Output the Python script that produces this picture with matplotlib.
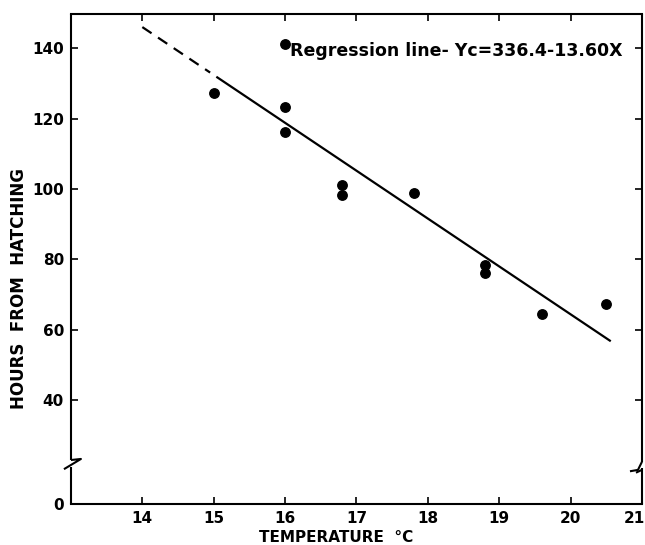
import matplotlib
matplotlib.use("Agg")
import matplotlib.pyplot as plt
import matplotlib.transforms as mtransforms
from matplotlib.lines import Line2D

# ---- data ----
temperature = [15.0, 16.0, 16.0, 16.0, 16.8, 16.8, 17.8, 18.8, 18.8, 19.6, 20.5]
hours = [127.2, 141.1, 123.3, 116.3, 101.0, 98.3, 98.8, 78.5, 76.0, 64.5, 67.4]

reg_intercept = 336.4
reg_slope = -13.60
dashed_x = [14.0, 14.95]
solid_x = [15.05, 20.55]

x_ticks = [14, 15, 16, 17, 18, 19, 20, 21]
y_ticks = [40, 60, 80, 100, 120, 140]
y_zero_label = "0"
equation_text = "Regression line- Yc=336.4-13.60X"

# ---- layout constants (broken axis) ----
Y_FLOOR = 10.5       # where the "0" sits on the broken axis
Y_TOP = 149.7
BREAK_HI = 23.0
BREAK_LO = 21.0

fig = plt.figure(figsize=(6.45, 5.45), dpi=100)
ax = fig.add_axes([0.110, 0.0752, 0.8853, 0.899])

ax.set_xlim(13, 21)
ax.set_ylim(Y_FLOOR, Y_TOP)

# regression line
ax.plot(dashed_x, [reg_intercept + reg_slope * x for x in dashed_x],
        color="black", lw=1.6, ls=(0, (5, 3.5)))
ax.plot(solid_x, [reg_intercept + reg_slope * x for x in solid_x],
        color="black", lw=1.6)

# data points
ax.plot(temperature, hours, "o", color="black", ms=6.8, mec="black")

ax.text(16.07, 139.2, equation_text, fontsize=12.5, fontweight="bold",
        ha="left", va="center", family="DejaVu Sans")

# ticks
ax.set_xticks(x_ticks)
ax.set_xticklabels([str(t) for t in x_ticks], fontsize=11, fontweight="bold")
ax.set_yticks([Y_FLOOR] + y_ticks)
ax.set_yticklabels([y_zero_label] + [str(t) for t in y_ticks], fontsize=11,
                   fontweight="bold")
ax.tick_params(axis="both", direction="in", length=5, width=1.2,
               top=True, right=True, pad=5)
# nudge the last x label so it stays inside the canvas, as in the reference
last = ax.get_xticklabels()[-1]
last.set_transform(last.get_transform() +
                   mtransforms.ScaledTranslation(-5.5 / 72, 0, fig.dpi_scale_trans))

ax.set_xlabel("TEMPERATURE  °C", fontsize=11, fontweight="bold")
ax.xaxis.set_label_coords(0.465, -0.054)
ax.set_ylabel("HOURS  FROM  HATCHING", fontsize=12, fontweight="bold")
ax.yaxis.set_label_coords(-0.076, 0.44)

# spines: bottom & top normal, left/right drawn broken
for s in ["top", "bottom"]:
    ax.spines[s].set_linewidth(1.5)
ax.spines["left"].set_visible(False)
ax.spines["right"].set_visible(False)

trans = mtransforms.blended_transform_factory(ax.transAxes, ax.transData)
px = 1.0 / (0.8853 * 645)
lw = 1.5
kw = dict(transform=trans, color="black", lw=lw, clip_on=False, solid_capstyle="butt")

# left spine
ax.add_line(Line2D([0, 0], [BREAK_HI, Y_TOP], **kw))
ax.add_line(Line2D([0, 0], [Y_FLOOR, BREAK_LO], **kw))
ax.add_line(Line2D([0, 10 * px, -7 * px], [BREAK_HI, BREAK_HI + 0.3, BREAK_LO - 0.6], **kw))
# right spine
ax.add_line(Line2D([1, 1], [BREAK_HI - 0.5, Y_TOP], **kw))
ax.add_line(Line2D([1, 1], [Y_FLOOR, BREAK_LO - 0.3], **kw))
ax.add_line(Line2D([1, 1 - 4 * px, 1 - 12 * px], [BREAK_HI - 0.5, BREAK_LO - 0.8, BREAK_LO - 1.2], **kw))
ax.add_line(Line2D([1 - 6 * px, 1], [BREAK_LO - 1.6, BREAK_LO - 0.8], **kw))

fig.savefig("out.png", dpi=100)
